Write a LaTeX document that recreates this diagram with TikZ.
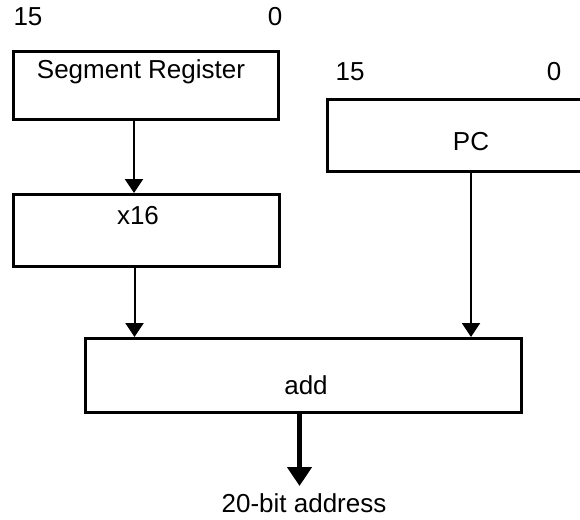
\documentclass[tikz,border=0pt]{standalone}
\usepackage{fontspec}
\setmainfont{Liberation Sans}
\usetikzlibrary{arrows.meta,positioning}

\begin{document}
\begin{tikzpicture}[x=1pt,y=-1pt,
    regbox/.style={draw,line width=3pt,inner sep=0pt,anchor=north west},
    lbl/.style={font=\fontsize{26}{30}\selectfont},
    flow/.style={-{Triangle[width=18pt,length=14pt]},line width=2pt},
    bigflow/.style={-{Triangle[width=24pt,length=19pt]},line width=4.5pt}]
  \useasboundingbox (0,0) rectangle (580,519);
  \clip (0,0) rectangle (580,519);
  % boxes
  \node[regbox,minimum width=265pt,minimum height=68pt] (seg) at (12,50) {};
  \node[regbox,minimum width=266pt,minimum height=72pt] (x16) at (12,193) {};
  \node[regbox,minimum width=280pt,minimum height=72pt] (pc) at (326,98) {};
  \node[regbox,minimum width=436pt,minimum height=74pt] (add) at (84,337) {};
  % texts
  \node[lbl] (segtxt) at (141,72) {Segment Register};
  \node[lbl] (x16txt) at (138,216) {x16};
  \node[lbl] (pctxt) at (471,142) {PC};
  \node[lbl] (addtxt) at (306,385) {add};
  \node[lbl] (seghi) at (28,17) {15};
  \node[lbl] (seglo) at (275,17) {0};
  \node[lbl] (pchi) at (350,72) {15};
  \node[lbl] (pclo) at (554,72) {0};
  \node[lbl] (out) at (304,503) {20-bit address};
  % connectors
  \draw[flow] ([xshift=-12pt]seg.south) -- ([xshift=-12pt]seg.south |- x16.north);
  \draw[flow] ([xshift=-12pt]x16.south) -- ([xshift=-12pt]x16.south |- add.north);
  \draw[flow] (pctxt |- pc.south) -- (pctxt |- add.north);
  \draw[bigflow] ([xshift=-4pt]add.south) -- ([xshift=-4pt,yshift=-72pt]add.south);
\end{tikzpicture}
\end{document}
